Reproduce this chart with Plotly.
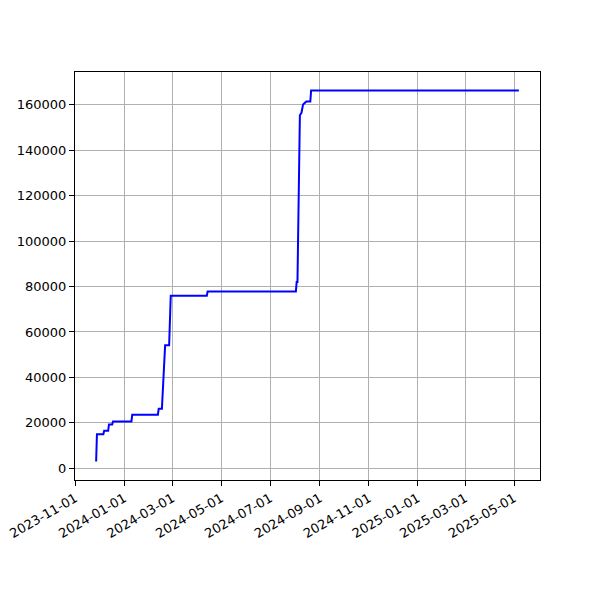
import plotly.graph_objects as go
import pandas as pd

dates = [
    "2023-11-27", "2023-11-28", "2023-12-06", "2023-12-07", "2023-12-12",
    "2023-12-13", "2023-12-17", "2023-12-18", "2024-01-10", "2024-01-11",
    "2024-02-12", "2024-02-13", "2024-02-17", "2024-02-21", "2024-02-26",
    "2024-02-28", "2024-04-13", "2024-04-14", "2024-08-02", "2024-08-03",
    "2024-08-04", "2024-08-07", "2024-08-09", "2024-08-11", "2024-08-15",
    "2024-08-20", "2024-08-21", "2025-05-07",
]
values = [
    3000, 15000, 15000, 16500, 16500,
    19300, 19300, 20600, 20600, 23600,
    23600, 26200, 26200, 54200, 54200,
    76000, 76000, 77800, 77800, 82000,
    82000, 155400, 156500, 160200, 161500,
    161500, 166300, 166300,
]
y_ticks = [0, 20000, 40000, 60000, 80000, 100000, 120000, 140000, 160000]

d = pd.to_datetime(dates)
span = d.max() - d.min()
x_range = [d.min() - span * 0.05, d.max() + span * 0.05]
vr = max(values) - min(values)
y_range = [min(values) - vr * 0.05, max(values) + vr * 0.05]

fig = go.Figure()
fig.add_trace(go.Scatter(x=d, y=values, mode="lines",
                         line=dict(color="#0000ff", width=2), showlegend=False))

axis_common = dict(
    showline=True, linecolor="black", linewidth=1, mirror=True,
    ticks="outside", ticklen=5, tickwidth=1, tickcolor="black",
    showgrid=True, gridcolor="#b0b0b0", gridwidth=1, zeroline=False,
    tickfont=dict(family="DejaVu Sans", size=13, color="black"),
    ticklabeloverflow="allow",
)
fig.update_xaxes(range=x_range, tickmode="linear", tick0="2023-11-01", dtick="M2",
                 tickformat="%Y-%m-%d", tickangle=-30, **axis_common)
fig.update_yaxes(range=y_range, tickmode="array", tickvals=y_ticks,
                 ticktext=[str(v) for v in y_ticks], **axis_common)
fig.update_layout(width=600, height=600, plot_bgcolor="white", paper_bgcolor="white",
                  margin=dict(l=67, r=68, t=64, b=128, autoexpand=False))
fig.write_html("out.html")
